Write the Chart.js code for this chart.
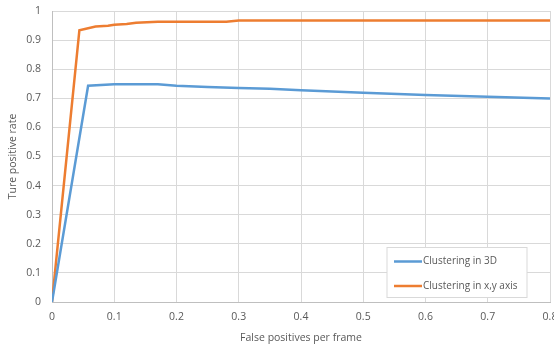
<!DOCTYPE html>
<html>
<head>
<meta charset="utf-8">
<script src="https://cdn.jsdelivr.net/npm/chart.js@4/dist/chart.umd.min.js"></script>
<style>
  html, body { margin: 0; padding: 0; background: #fff; }
  #wrap { width: 554px; height: 349px; }
</style>
</head>
<body>
<div id="wrap"><canvas id="myChart" width="554" height="349"></canvas></div>
<script>
	// values
	var seriesNames = ["Clustering in 3D", "Clustering in x,y axis"];
	var fp3d = [0, 0.058, 0.1, 0.17, 0.2, 0.25, 0.3, 0.35, 0.4, 0.5, 0.6, 0.7, 0.8];
	var tp3d = [0, 0.743, 0.748, 0.748, 0.743, 0.739, 0.735, 0.733, 0.728, 0.719, 0.711, 0.705, 0.699];
	var fpXy = [0, 0.044, 0.07, 0.09, 0.1, 0.12, 0.135, 0.17, 0.28, 0.3, 0.8];
	var tpXy = [0, 0.934, 0.947, 0.949, 0.953, 0.955, 0.96, 0.963, 0.963, 0.967, 0.967];
	var xTicks = [0, 0.1, 0.2, 0.3, 0.4, 0.5, 0.6, 0.7, 0.8];
	var yTicks = [0, 0.1, 0.2, 0.3, 0.4, 0.5, 0.6, 0.7, 0.8, 0.9, 1];

	function toPoints(xs, ys) {
		var pts = [];
		for (var i = 0; i < xs.length; i++) {
			pts.push({ x: xs[i], y: ys[i] });
		}
		return pts;
	}

	var fontFam = "'Open Sans', 'Noto Sans', sans-serif";
	var gray = '#595959';
	var grid = '#d9d9d9';

	// legend drawn inside the plot, lower right
	var boxLegend = {
		id: 'boxLegend',
		afterDraw: function(chart) {
			var c = chart.ctx;
			var x0 = 387, y0 = 247.5, w = 140, h = 50;
			c.save();
			c.fillStyle = '#fff';
			c.fillRect(x0, y0, w, h);
			c.strokeStyle = grid;
			c.lineWidth = 1;
			c.strokeRect(x0, y0, w, h);
			c.font = '10px ' + fontFam;
			c.textBaseline = 'middle';
			chart.data.datasets.forEach(function(ds, i) {
				var yy = y0 + 14 + i * 24.5;
				c.strokeStyle = ds.borderColor;
				c.lineWidth = 2.5;
				c.beginPath();
				c.moveTo(x0 + 7, yy);
				c.lineTo(x0 + 35, yy);
				c.stroke();
				c.fillStyle = gray;
				c.fillText(ds.label, x0 + 36, yy);
			});
			c.restore();
		}
	};

	var ctx = document.getElementById("myChart");
	var myChart = new Chart(ctx, {
		type: 'line',
		data: {
			datasets: [{
				label: seriesNames[0],
				data: toPoints(fp3d, tp3d),
				borderColor: '#5b9bd5',
				borderWidth: 2.5,
				pointRadius: 0,
				tension: 0
			}, {
				label: seriesNames[1],
				data: toPoints(fpXy, tpXy),
				borderColor: '#ed7d31',
				borderWidth: 2.5,
				pointRadius: 0,
				tension: 0
			}]
		},
		options: {
			responsive: false,
			animation: false,
			layout: { padding: { top: 11, right: 4, left: 0, bottom: 0 } },
			plugins: {
				legend: { display: false },
				tooltip: { enabled: false }
			},
			scales: {
				x: {
					type: 'linear',
					min: 0,
					max: 0.8,
					afterBuildTicks: function(s) { s.ticks = xTicks.map(function(v) { return { value: v }; }); },
					afterFit: function(s) { s.height = 47; s.paddingLeft = 0; s.paddingRight = 0; },
					grid: { color: grid, lineWidth: 1, drawTicks: false },
					border: { color: '#bfbfbf' },
					ticks: {
						color: gray,
						padding: 9,
						font: { size: 10.5, family: fontFam },
						callback: function(v) { return String(Number(v.toFixed(1))); }
					},
					title: {
						display: true,
						text: 'False positives per frame',
						color: gray,
						padding: { top: 4, bottom: 5 },
						font: { size: 10.5, family: fontFam }
					}
				},
				y: {
					min: 0,
					max: 1,
					afterBuildTicks: function(s) { s.ticks = yTicks.map(function(v) { return { value: v }; }); },
					afterFit: function(s) { s.width = 52; s.paddingTop = 0; s.paddingBottom = 0; },
					grid: { color: grid, lineWidth: 1, drawTicks: false },
					border: { color: '#bfbfbf' },
					ticks: {
						color: gray,
						padding: 11,
						font: { size: 10.5, family: fontFam },
						callback: function(v) { return String(Number(v.toFixed(1))); }
					},
					title: {
						display: true,
						text: 'Ture positive rate',
						color: gray,
						padding: { top: 7, bottom: 2 },
						font: { size: 10.5, family: fontFam }
					}
				}
			}
		},
		plugins: [boxLegend]
	});
</script>
</body>
</html>
